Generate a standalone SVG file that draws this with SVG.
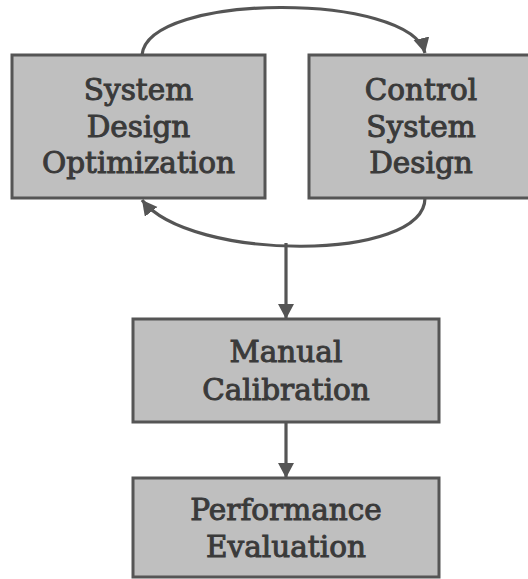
<svg xmlns="http://www.w3.org/2000/svg" width="528" height="579" viewBox="0 0 528 579">
<style>
.box{fill:#bfbfbf;stroke:#555555;stroke-width:3}
.lbl{font-family:"DejaVu Serif","Liberation Serif",serif;font-size:29.5px;fill:#3a3a3a;stroke:#3a3a3a;stroke-width:1;text-anchor:middle}
.con{fill:none;stroke:#555555;stroke-width:3.2}
</style>
<defs>
<marker id="ah" markerUnits="userSpaceOnUse" markerWidth="18" markerHeight="18" refX="15" refY="8" orient="auto">
<path d="M0,0 L15,8 L0,16 z" fill="#555555"/>
</marker>
</defs>
<rect width="528" height="579" fill="#ffffff"/>
<g id="connectors">
<path class="con" d="M142,55 C148,-8 410,-8 425,53" marker-end="url(#ah)"/>
<path class="con" d="M425,198 C425,262 190,262 142,200" marker-end="url(#ah)"/>
<path class="con" d="M286,243 L286,319" marker-end="url(#ah)"/>
<path class="con" d="M286,422 L286,478" marker-end="url(#ah)"/>
</g>
<g id="node-sdo">
<rect class="box" x="12" y="55" width="253" height="143"/>
<text class="lbl" x="138.5" y="100">System</text>
<text class="lbl" x="138.5" y="137">Design</text>
<text class="lbl" x="138.5" y="173">Optimization</text>
</g>
<g id="node-csd">
<rect class="box" x="309" y="55" width="224" height="143"/>
<text class="lbl" x="421" y="100">Control</text>
<text class="lbl" x="421" y="137">System</text>
<text class="lbl" x="421" y="173">Design</text>
</g>
<g id="node-mc">
<rect class="box" x="133" y="319" width="306" height="103"/>
<text class="lbl" x="286" y="362">Manual</text>
<text class="lbl" x="286" y="400">Calibration</text>
</g>
<g id="node-pe">
<rect class="box" x="133" y="478" width="306" height="99"/>
<text class="lbl" x="286" y="520">Performance</text>
<text class="lbl" x="286" y="557">Evaluation</text>
</g>
</svg>
